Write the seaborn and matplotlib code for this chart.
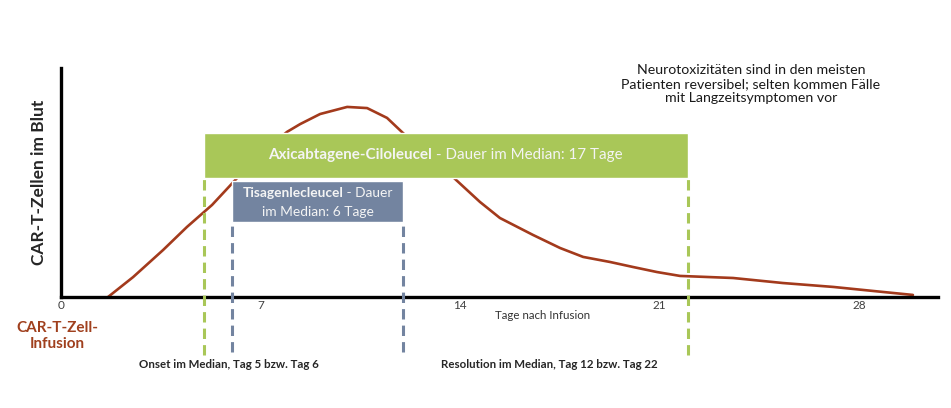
import numpy as np
import pandas as pd
import seaborn as sns
import matplotlib.pyplot as plt
import matplotlib.transforms as mtransforms

# curve of CAR-T cells in blood (arbitrary units)
days = [1.65, 2.53, 3.58, 4.42, 5.3, 6.28, 7.16, 7.93, 8.39, 9.09, 10.04, 10.74,
        11.44, 12.0, 12.88, 13.75, 14.7, 15.4, 16.56, 17.51, 18.32, 19.26, 20.07,
        20.91, 21.72, 23.58, 25.33, 27.09, 28.84, 29.89]
cells = [0, 8.7, 20.5, 30.6, 40.2, 53.3, 64.2, 72.1, 75.5, 79.9, 83.0, 82.5,
         78.2, 71.6, 62.0, 52.4, 41.5, 34.5, 27.1, 21.4, 17.5, 15.3, 13.1,
         10.9, 9.2, 8.3, 6.1, 4.4, 2.2, 0.9]

xticks = [0, 7, 14, 21, 28]
axi_onset, axi_resol = 5, 22
tisa_onset, tisa_resol = 6, 12

curve_col = '#a33a1c'
green = '#a9c758'
slate = '#7384a0'

sns.set_style('white')
plt.rcParams['font.family'] = ['Lato', 'DejaVu Sans']

fig = plt.figure(figsize=(9.51, 4.08), dpi=100)
ax = fig.add_axes([61/951, 111/408, 877/951, 229/408])

df = pd.DataFrame({'Tag': days, 'Zellen': cells})
sns.lineplot(data=df, x='Tag', y='Zellen', ax=ax, color=curve_col, lw=1.9, zorder=2)

ax.set_xlim(0, 30.77)
ax.set_ylim(0, 100)
sns.despine(ax=ax)
for s in ['left', 'bottom']:
    ax.spines[s].set_linewidth(2.4)
    ax.spines[s].set_color('black')
ax.set_yticks([])
ax.set_xticks(xticks)
ax.set_xticklabels([str(t) for t in xticks], fontsize=8.5, color='#404040')
ax.tick_params(axis='x', length=0, pad=2.5)

ax.set_ylabel('CAR-T-Zellen im Blut', fontsize=12.5, fontweight='bold', labelpad=10)
ax.set_xlabel('Tage nach Infusion', fontsize=8.3, color='#333333')
ax.xaxis.set_label_coords((543-61)/877, -0.055)

# duration bars (drawn over the curve)
ax.barh(61.8, axi_resol - axi_onset, left=axi_onset, height=19.6, color=green, zorder=3)
ax.barh(41.7, tisa_resol - tisa_onset, left=tisa_onset, height=17.9, color=slate, zorder=3)

# dashed markers
dash = dict(lw=2.2, linestyles=[(0, (3.4, 2.0))], clip_on=False, zorder=3)
ax.vlines([axi_onset, axi_resol], -25.3, 52, color=green, **dash)
ax.vlines([tisa_onset, tisa_resol], -24, 32.8, color=slate, **dash)

r = fig.canvas.get_renderer()


def two_part(x, y, bold, rest, size, color):
    t1 = ax.text(x, y, bold, fontsize=size, fontweight='bold', color=color,
                 ha='left', va='center', zorder=4)
    t2 = ax.text(x, y, rest, fontsize=size, color=color, ha='left', va='center', zorder=4)
    w1 = t1.get_window_extent(r).width
    w2 = t2.get_window_extent(r).width
    t1.set_transform(mtransforms.offset_copy(ax.transData, fig, x=-(w1+w2)/2, y=0, units='dots'))
    t2.set_transform(mtransforms.offset_copy(ax.transData, fig, x=-(w1+w2)/2 + w1, y=0, units='dots'))


two_part((axi_onset + axi_resol)/2, 61.8, 'Axicabtagene-Ciloleucel',
         ' - Dauer im Median: 17 Tage', 10.9, '#f4f4f4')
two_part((tisa_onset + tisa_resol)/2, 45.5, 'Tisagenlecleucel', ' - Dauer', 9.9, '#f4f4f4')
ax.text((tisa_onset + tisa_resol)/2, 37.0, 'im Median: 6 Tage', fontsize=9.9,
        color='#f4f4f4', ha='center', va='center', zorder=4)

# texts outside the axes
fig.text(57/951, 1 - 336/408, 'CAR-T-Zell-\nInfusion', fontsize=11, fontweight='bold',
         color='#a0401e', ha='center', va='center', linespacing=1.1)
fig.text(229/951, 1 - 364/408, 'Onset im Median, Tag 5 bzw. Tag 6', fontsize=8.3,
         fontweight='bold', ha='center', va='center')
fig.text(549/951, 1 - 364/408, 'Resolution im Median, Tag 12 bzw. Tag 22', fontsize=8.3,
         fontweight='bold', ha='center', va='center')
fig.text(751/951, 1 - 84/408,
         'Neurotoxizitäten sind in den meisten\nPatienten reversibel; selten kommen Fälle\nmit Langzeitsymptomen vor',
         fontsize=10.2, color='#1a1a1a', ha='center', va='center', linespacing=1.2)

fig.savefig('out.png', dpi=100)
